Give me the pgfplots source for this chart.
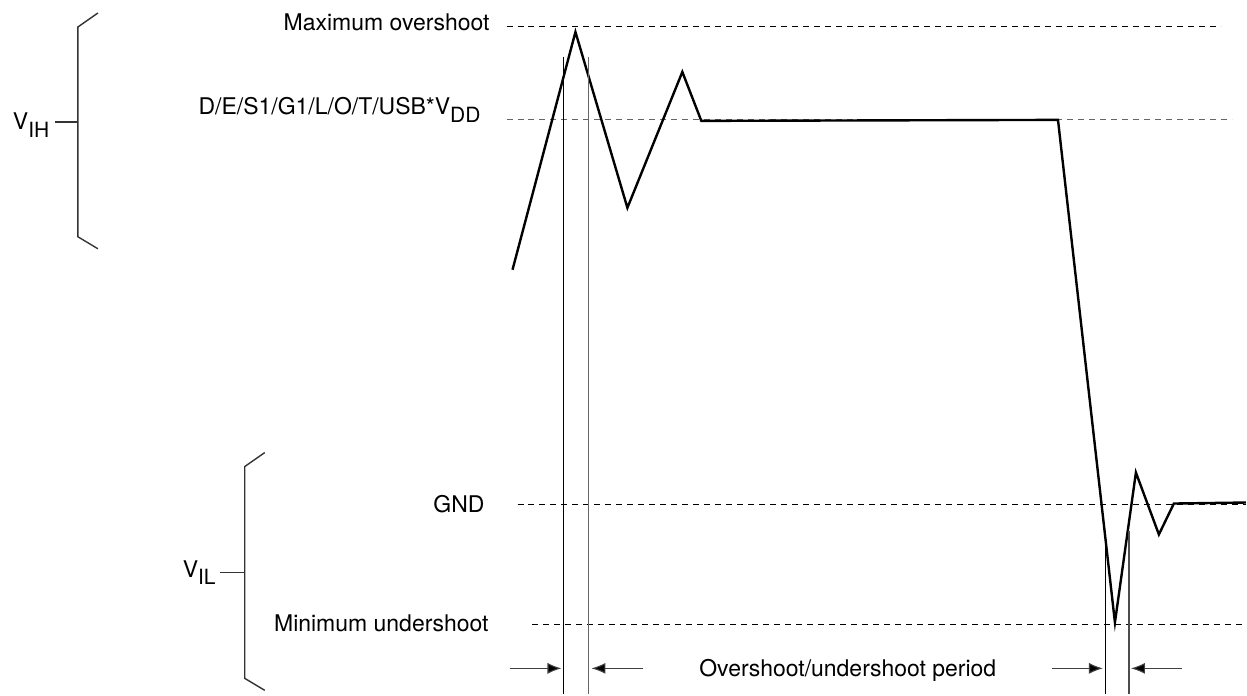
\documentclass[border=0pt]{standalone}
\usepackage{pgfplots}
\pgfplotsset{compat=1.18}
\usepackage{fontspec}
\setmainfont{TeX Gyre Heros}
\usetikzlibrary{arrows.meta}
\newcommand\sub[1]{\raisebox{-0.32em}{\fontsize{10.5}{12}\selectfont #1}}
\tikzset{lbl/.style={inner sep=0pt, outer sep=0pt, font=\fontsize{11.5}{13}\selectfont}}
\begin{document}
\begin{tikzpicture}
\begin{axis}[
  width=623.5pt, height=347.5pt, scale only axis,
  xmin=0, xmax=1247, ymin=0, ymax=695, y dir=reverse,
  hide axis, clip=false,
]
% invisible frame to fix bounding box
\addplot[draw=none] coordinates {(0,0) (1247,695)};
% dashed reference levels
\addplot[black, line width=0.5pt, dash pattern=on 3pt off 2.5pt] coordinates {(507,27) (1222,27)};
\addplot[black!60, line width=0.6pt, dash pattern=on 3pt off 2.5pt] coordinates {(507,120) (1233,120)};
\addplot[black, line width=0.5pt, dash pattern=on 3pt off 2.5pt] coordinates {(518,505) (1247,505)};
\addplot[black, line width=0.5pt, dash pattern=on 3pt off 2.5pt] coordinates {(533,625) (1247,625)};
% waveform
\addplot[black, line width=1.2pt, line join=miter] coordinates {
 (513,270) (576,32) (628,208) (683,72) (702,121) (1059,120)
 (1116,623) (1137,473) (1160,535) (1175,504) (1247,503)};
% vertical period markers
\addplot[black, line width=0.5pt] coordinates {(564,57) (564,695)};
\addplot[black!60, line width=0.7pt] coordinates {(589,57) (589,695)};
\addplot[black, line width=0.5pt] coordinates {(1107,544) (1107,695)};
\addplot[black!70, line width=0.6pt] coordinates {(1130,532) (1130,695)};
% arrows
\addplot[black!75, line width=0.55pt, -{Latex[length=7pt,width=5.5pt,fill=black]}] coordinates {(510,669) (562,669)};
\addplot[black!75, line width=0.55pt, -{Latex[length=7pt,width=5.5pt,fill=black]}] coordinates {(644,669) (592,669)};
\addplot[black!75, line width=0.55pt, -{Latex[length=7pt,width=5.5pt,fill=black]}] coordinates {(1053,669) (1104,669)};
\addplot[black!75, line width=0.55pt, -{Latex[length=7pt,width=5.5pt,fill=black]}] coordinates {(1183,669) (1132,669)};
% braces
\addplot[black!80, line width=0.7pt] coordinates {(98,13) (78,27) (78,237) (98,249)};
\addplot[black!80, line width=0.7pt] coordinates {(55,122) (78,122)};
\addplot[black!80, line width=0.7pt] coordinates {(265,453) (245,467) (245,679) (265,691)};
\addplot[black!80, line width=0.7pt] coordinates {(220,573) (245,573)};
% labels
\node[lbl, anchor=base east] at (axis cs:490,31) {Maximum overshoot};
\node[lbl, anchor=base east] at (axis cs:481,115) {D/E/S1/G1/L/O/T/USB*V\sub{DD}};
\node[lbl, anchor=base east] at (axis cs:485,513) {GND};
\node[lbl, anchor=base east] at (axis cs:489,632) {Minimum undershoot};
\node[lbl, anchor=base west] at (axis cs:700,677) {Overshoot/undershoot period};
\node[lbl, anchor=base west] at (axis cs:13,130) {V\sub{IH}};
\node[lbl, anchor=base west] at (axis cs:183,578) {V\sub{IL}};
\end{axis}
\end{tikzpicture}
\end{document}
